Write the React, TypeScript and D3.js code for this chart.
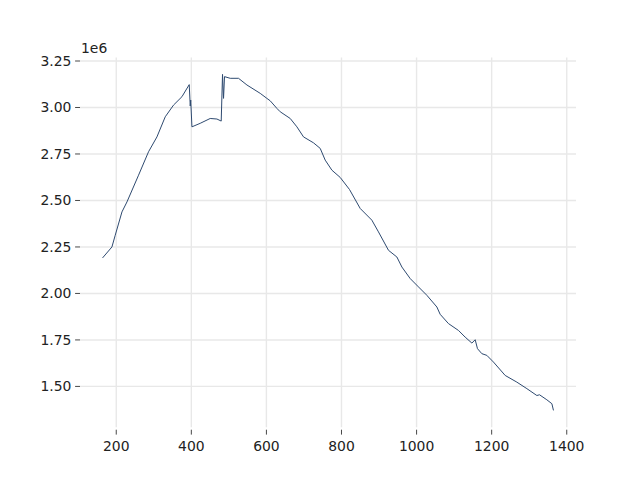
import React from "react";
import * as d3 from "d3";

const xs = [163.5, 188.5, 197.3, 215.2, 228.5, 259.4, 286.0, 308.4, 330.5, 352.6, 375.0, 394.4, 397.1, 398.4, 401.6, 423.7, 450.3, 468.2, 479.6, 483.1, 485.8, 488.4, 503.6, 525.7, 548.1, 583.5, 601.3, 610.1, 628.0, 636.8, 663.4, 681.2, 698.8, 725.4, 743.3, 756.6, 774.4, 796.5, 821.3, 849.8, 880.9, 898.5, 925.2, 947.5, 960.9, 983.0, 1005.1, 1027.4, 1054.1, 1062.8, 1084.9, 1111.6, 1129.4, 1147.3, 1156.1, 1162.2, 1173.9, 1187.2, 1204.8, 1236.0, 1267.1, 1293.8, 1320.4, 1327.4, 1347.0, 1360.4, 1364.6];
const ys = [2.191, 2.25, 2.313, 2.4385, 2.492, 2.636, 2.762, 2.842, 2.95, 3.013, 3.058, 3.123, 3.008, 3.04, 2.896, 2.915, 2.941, 2.938, 2.927, 3.178, 3.049, 3.166, 3.157, 3.157, 3.121, 3.076, 3.049, 3.036, 2.995, 2.977, 2.941, 2.896, 2.842, 2.81, 2.78, 2.717, 2.663, 2.624, 2.559, 2.457, 2.394, 2.331, 2.232, 2.196, 2.142, 2.08, 2.035, 1.99, 1.927, 1.888, 1.838, 1.801, 1.765, 1.733, 1.751, 1.703, 1.676, 1.667, 1.631, 1.559, 1.523, 1.488, 1.451, 1.455, 1.428, 1.407, 1.371].map((v) => v * 1e6);
const xTicks = [200, 400, 600, 800, 1000, 1200, 1400];
const yTicks = [1.5, 1.75, 2.0, 2.25, 2.5, 2.75, 3.0, 3.25].map((v) => v * 1e6);
const yTickLabels = ["1.50", "1.75", "2.00", "2.25", "2.50", "2.75", "3.00", "3.25"];

export default function App() {
  const W = 640, H = 480;
  const L = 80, R = 576, T = 57.6, B = 427.2;
  const xMin = d3.min(xs)!, xMax = d3.max(xs)!;
  const yMin = d3.min(ys)!, yMax = d3.max(ys)!;
  const xm = (xMax - xMin) * 0.05, ym = (yMax - yMin) * 0.05;
  const x = d3.scaleLinear().domain([xMin - xm, xMax + xm]).range([L, R]);
  const y = d3.scaleLinear().domain([yMin - ym, yMax + ym]).range([B, T]);
  const pts: [number, number][] = xs.map((v, i) => [v, ys[i]]);
  const line = d3.line<[number, number]>().x((d) => x(d[0])).y((d) => y(d[1]));
  const font = "DejaVu Sans, sans-serif";
  const fs = 13.9;
  return (
    <svg width={W} height={H} style={{ display: "block", position: "absolute", left: 0, top: 0 }}>
      <rect x={0} y={0} width={W} height={H} fill="#fff" />
      {xTicks.map((t) => (
        <line key={"gx" + t} x1={x(t)} x2={x(t)} y1={T} y2={B} stroke="#e8e8e8" strokeWidth={1.4} />
      ))}
      {yTicks.map((t) => (
        <line key={"gy" + t} x1={L} x2={R} y1={y(t)} y2={y(t)} stroke="#e8e8e8" strokeWidth={1.4} />
      ))}
      <path d={line(pts)!} fill="none" stroke="#2e4a70" strokeWidth={1} strokeLinejoin="round" />
      {xTicks.map((t) => (
        <g key={"tx" + t}>
          <line x1={x(t)} x2={x(t)} y1={B + 2.5} y2={B + 7.4} stroke="#333" strokeWidth={0.9} />
          <text x={x(t)} y={B + 23.5} textAnchor="middle" fontFamily={font} fontSize={fs} fill="#222">{t}</text>
        </g>
      ))}
      {yTicks.map((t, i) => (
        <g key={"ty" + t}>
          <line x1={L - 4.9} x2={L} y1={y(t)} y2={y(t)} stroke="#333" strokeWidth={0.9} />
          <text x={L - 8.6} y={y(t)} dy="0.35em" textAnchor="end" fontFamily={font} fontSize={fs} fill="#222">{yTickLabels[i]}</text>
        </g>
      ))}
      <text x={81} y={52.7} fontFamily={font} fontSize={fs} fill="#222">1e6</text>
    </svg>
  );
}
